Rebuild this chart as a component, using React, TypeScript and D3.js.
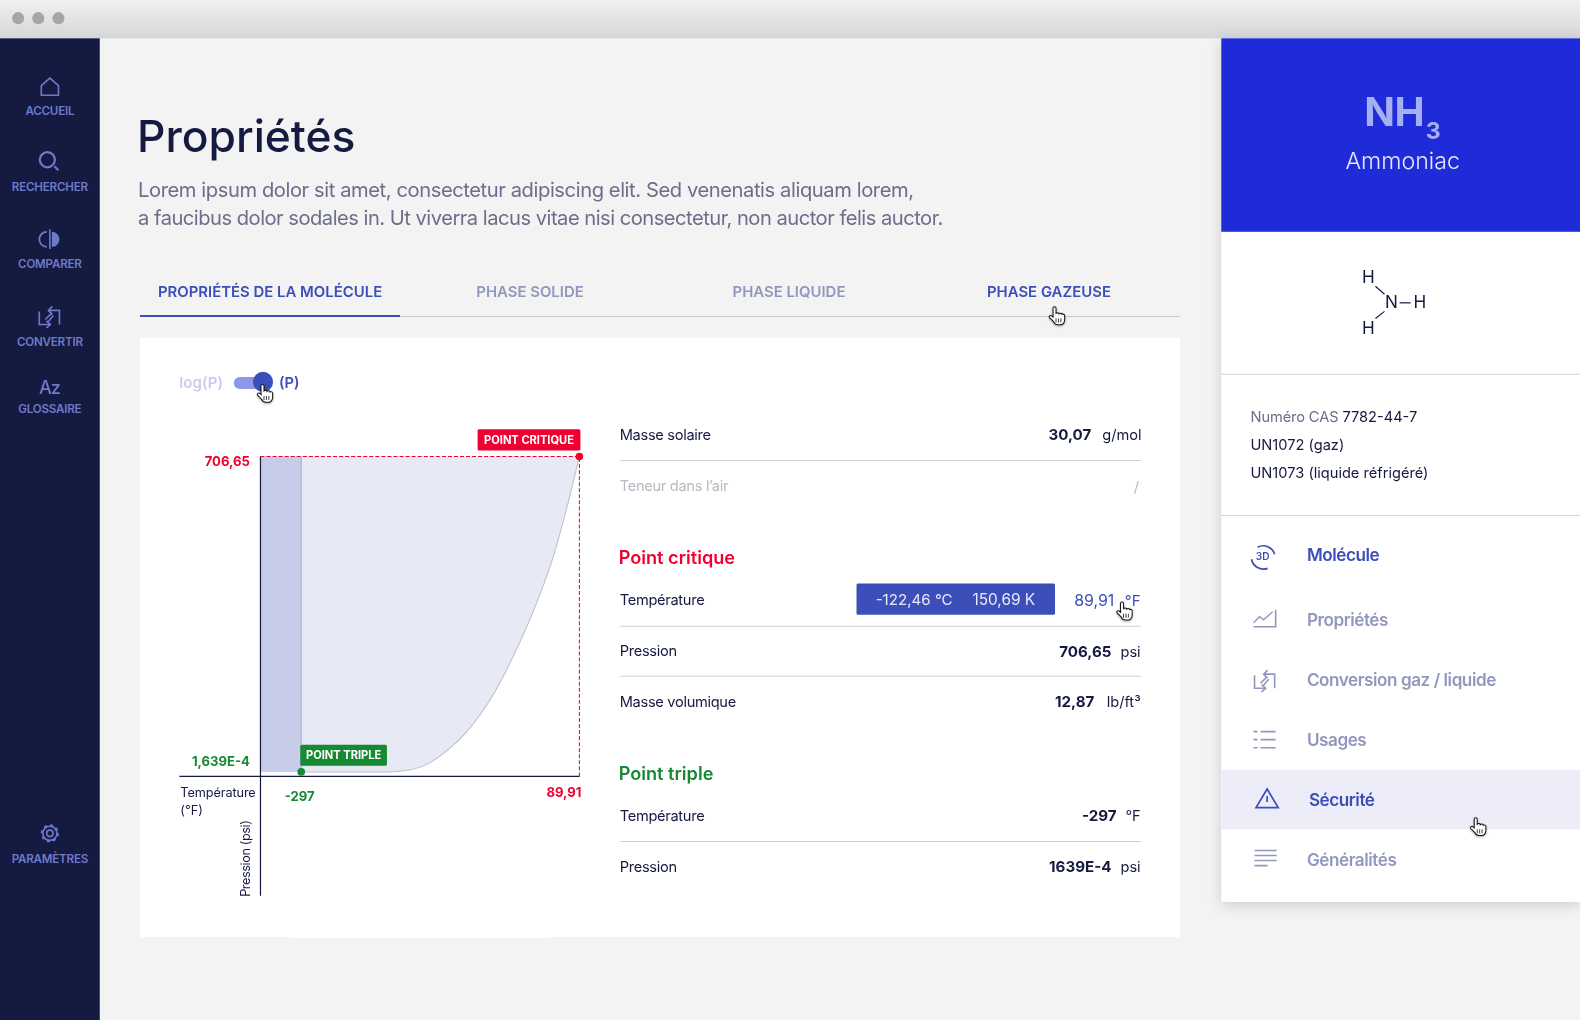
import React from "react";
import * as d3 from "d3";

// ---- data ----
const temperatureF = [-297, -176, -150, -122.2, -94.4, -66.7, -29.6, -1.9, 26, 53.7, 72.3, 89.91];
const pressurePsi = [0.0001639, 0.0002, 3.4, 16.9, 47.4, 90.3, 173.8, 259.6, 361, 483, 591.5, 706.65];
const xDomain = [-353.7, 89.91];
const yDomain = [0.0001639, 706.65];
const criticalPoint = { t: 89.91, p: 706.65, tLabel: "89,91", pLabel: "706,65" };
const triplePoint = { t: -297, p: 0.0001639, tLabel: "-297", pLabel: "1,639E-4" };
const navItems = ["ACCUEIL", "RECHERCHER", "COMPARER", "CONVERTIR", "GLOSSAIRE"];
const navY = [114, 190, 266, 343, 410];
const tabs = ["PROPRIÉTÉS DE LA MOLÉCULE", "PHASE SOLIDE", "PHASE LIQUIDE", "PHASE GAZEUSE"];
const tabX = [268, 526, 783, 1041];
const sideItems = ["Molécule", "Propriétés", "Conversion gaz / liquide", "Usages", "Sécurité", "Généralités"];
const sideY = [557, 621, 681, 740, 800, 859];

const NAVY = "#151a40";
const ACCENT = "#3c4eb9";
const ICON = "#6d7acb";
const MUTED = "#9297bd";
const RED = "#f00030";
const GREEN = "#158a32";
const FONT = "Inter, 'Noto Sans', sans-serif";

function Hand({ x, y }: { x: number; y: number }) {
  return (
    <g transform={`translate(${x},${y})`} filter="url(#soft)">
      <path
        d="M-3 -8 c0-2 3-2 3 0 v5 c1-1 3-1 3 .5 c1-1 3-1 3 .5 c1-.6 2.6-.2 2.6 1.2 v4 c0 3-2 5-4 5 h-3 c-2 0-3-1-4-3 l-4-4 c-1-1.5 1-3 2.5-1.5 l1 1 z"
        fill="#fff"
        stroke="#111"
        strokeWidth={1}
      />
      <path d="M0 2v4M2.4 2v4M4.8 2v4" stroke="#111" strokeWidth={0.8} />
    </g>
  );
}

function ConvertIcon({ x, y, c }: { x: number; y: number; c: string }) {
  return (
    <g transform={`translate(${x},${y})`} fill="none" stroke={c} strokeWidth={1.6}>
      <path d="M-10 -5 V8 H0 M-3 4.5 L1 8 L-3 11.5" />
      <path d="M10 8 V-6 H0 M3 -10 L-1 -6 L3 -2" />
      <path d="M-4 3 L2 -3" />
      <path d="M-1 5 L4 -1" />
    </g>
  );
}

export default function App() {
  const x = d3.scaleLinear().domain(xDomain).range([258.5, 575]);
  const y = d3.scaleLinear().domain(yDomain).range([766, 453]);
  const pts = temperatureF.map((t, i) => [t, pressurePsi[i]] as [number, number]);
  const curve = d3.line<[number, number]>().x((d) => x(d[0])).y((d) => y(d[1])).curve(d3.curveMonotoneX);
  const fill = d3
    .area<[number, number]>()
    .x((d) => x(d[0]))
    .y1((d) => y(d[1]))
    .y0(y(yDomain[1]))
    .curve(d3.curveMonotoneX);
  const xTrip = x(triplePoint.t);
  const xCrit = x(criticalPoint.t);
  const yTrip = y(triplePoint.p);
  const yCrit = y(criticalPoint.p);
  const xAxisY = yTrip + 4.5;
  const xOrigin = x(xDomain[0]);

  return (
    <svg
      width={1580}
      height={1020}
      viewBox="0 0 1568 1012.2"
      style={{ position: "fixed", left: 0, top: 0, fontFamily: FONT }}
    >
      <defs>
        <linearGradient id="bar" x1="0" y1="0" x2="0" y2="1">
          <stop offset="0" stopColor="#f0f0f0" />
          <stop offset="1" stopColor="#d5d6d9" />
        </linearGradient>
        <filter id="panel" x="-10%" y="-5%" width="120%" height="112%">
          <feDropShadow dx="0" dy="3" stdDeviation="7" floodColor="#000" floodOpacity="0.16" />
        </filter>
        <filter id="soft" x="-50%" y="-50%" width="200%" height="200%">
          <feDropShadow dx="0" dy="1" stdDeviation="1" floodColor="#000" floodOpacity="0.35" />
        </filter>
      </defs>

      <rect width={1568} height={1013} fill="#f3f3f4" />
      <rect width={1568} height={38} fill="url(#bar)" />
      {[18, 38, 58].map((cx) => (
        <circle key={cx} cx={cx} cy={18} r={6} fill="#a6a6a6" />
      ))}

      {/* left navigation */}
      <rect y={38} width={99} height={975} fill={NAVY} />
      {navItems.map((t, i) => (
        <text key={t} x={49.5} y={navY[i]} textAnchor="middle" fontSize={11.5} fontWeight={600} letterSpacing={-0.2} fill={ICON}>
          {t}
        </text>
      ))}
      <text x={49.5} y={856} textAnchor="middle" fontSize={11.5} fontWeight={600} letterSpacing={-0.2} fill={ICON}>
        PARAMÈTRES
      </text>
      <g fill="none" stroke={ICON} strokeWidth={1.6}>
        <path d="M41 94.5 V85 L49.5 77.5 L58 85 V94.5 Z" />
        <circle cx={47} cy={158.5} r={7.5} strokeWidth={2.2} />
        <path d="M54 165 L58 169" strokeWidth={2.2} />
        <path d="M46.5 230 A7.5 7.5 0 0 0 46.5 245" strokeWidth={1.8} />
        <path d="M49.5 227.5 V247" />
        <path d="M51.5 230 A7.5 7.5 0 0 1 51.5 245 Z" fill={ICON} stroke="none" />
        <circle cx={49.5} cy={827} r={3.2} />
        <circle cx={49.5} cy={827} r={7} />
        <circle cx={49.5} cy={827} r={8.2} strokeDasharray="3 3.44" strokeWidth={1.6} />
      </g>
      <ConvertIcon x={49} y={314} c={ICON} />
      <text x={49} y={391} textAnchor="middle" fontSize={18} fontWeight={500} letterSpacing={-1} fill={ICON}>
        Az
      </text>

      {/* header */}
      <text x={136} y={150.5} fontSize={44} fontWeight={500} fill={NAVY}>
        Propriétés
      </text>
      <g fontSize={20} fill="#6c6e8a">
        <text x={137} y={195.5} letterSpacing={-0.41}>Lorem ipsum dolor sit amet, consectetur adipiscing elit. Sed venenatis aliquam lorem,</text>
        <text x={137} y={223.5} letterSpacing={-0.5}>a faucibus dolor sodales in. Ut viverra lacus vitae nisi consectetur, non auctor felis auctor.</text>
      </g>

      {/* tabs */}
      {tabs.map((t, i) => (
        <text
          key={t}
          x={tabX[i]}
          y={295}
          textAnchor="middle"
          fontSize={14.8}
          fontWeight={600}
          fill={i === 0 || i === 3 ? ACCENT : MUTED}
        >
          {t}
        </text>
      ))}
      <line x1={139} x2={1171} y1={314} y2={314} stroke="#c9c9cf" />
      <line x1={139} x2={397} y1={313.5} y2={313.5} stroke={ACCENT} strokeWidth={2} />

      <rect x={139} y={335} width={1032} height={595} fill="#fff" />

      {/* toggle */}
      <text x={178} y={385.5} fontSize={15} fontWeight={600} fill="#c8cdee">log(P)</text>
      <rect x={232} y={374} width={36} height={12} rx={6} fill="#8c97e8" />
      <circle cx={261} cy={379} r={10} fill={ACCENT} />
      <text x={277} y={385.5} fontSize={14.6} fontWeight={600} fill={ACCENT}>(P)</text>
      <Hand x={262} y={391} />

      {/* chart */}
      <rect x={xOrigin} y={yCrit} width={xTrip - xOrigin} height={yTrip - yCrit} fill="#c7cce9" />
      <path d={fill(pts) ?? ""} fill="#e7e9f5" />
      <path d={curve(pts) ?? ""} fill="none" stroke="#bcbfca" strokeWidth={1} />
      <line x1={xTrip} x2={xTrip} y1={yCrit} y2={yTrip} stroke="#a6abc8" strokeWidth={1} />
      <path
        d={`M${xOrigin} ${yCrit} H${xCrit} V${xAxisY}`}
        fill="none"
        stroke={RED}
        strokeWidth={1}
        strokeDasharray="4 2"
      />
      <line x1={178} x2={xCrit} y1={xAxisY} y2={xAxisY} stroke={NAVY} strokeWidth={1.2} />
      <line x1={xOrigin} x2={xOrigin} y1={yCrit} y2={889} stroke={NAVY} strokeWidth={1.2} />
      <circle cx={xCrit} cy={yCrit} r={3.8} fill={RED} />
      <circle cx={xTrip} cy={yTrip} r={3.8} fill={GREEN} />

      <rect x={474} y={426} width={102} height={21} rx={1.5} fill={RED} />
      <text x={525} y={441} textAnchor="middle" fontSize={11} fontWeight={700} fill="#fff">POINT CRITIQUE</text>
      <rect x={298} y={739} width={86} height={21} rx={1.5} fill={GREEN} />
      <text x={341} y={753} textAnchor="middle" fontSize={11} fontWeight={700} fill="#fff">POINT TRIPLE</text>

      <g fontSize={13} fontWeight={700}>
        <text x={248} y={462} textAnchor="end" fill={RED}>{criticalPoint.pLabel}</text>
        <text x={248} y={760} textAnchor="end" fill={GREEN}>{triplePoint.pLabel}</text>
        <text x={xTrip - 1.5} y={795} textAnchor="middle" fill={GREEN}>{triplePoint.tLabel}</text>
        <text x={577} y={791} textAnchor="end" fill={RED}>{criticalPoint.tLabel}</text>
      </g>
      <g fontSize={12.6} fill={NAVY}>
        <text x={179} y={791} letterSpacing={-0.1}>Température</text>
        <text x={179} y={809}>(°F)</text>
        <text transform="translate(248,890) rotate(-90)" letterSpacing={-0.4}>Pression (psi)</text>
      </g>

      {/* table */}
      <g stroke="#cfcfd4">
        {[457, 621.5, 671, 835].map((ly) => (
          <line key={ly} x1={615} x2={1132} y1={ly} y2={ly} />
        ))}
      </g>
      <g fontSize={14.5} fill={NAVY} letterSpacing={-0.3}>
        <text x={615} y={437}>Masse solaire</text>
        <text x={615} y={487} fill="#b9b9c2">Teneur dans l’air</text>
        <text x={1130} y={488} textAnchor="end" fill="#b9b9c2">/</text>
        <text x={615} y={600}>Température</text>
        <text x={615} y={651}>Pression</text>
        <text x={615} y={702}>Masse volumique</text>
        <text x={615} y={815}>Température</text>
        <text x={615} y={865}>Pression</text>
        <g textAnchor="end" fontWeight={700} fontSize={15} letterSpacing={0}>
          <text x={1083} y={437}>30,07</text>
          <text x={1103} y={652}>706,65</text>
          <text x={1086} y={702}>12,87</text>
          <text x={1108} y={815}>-297</text>
          <text x={1103} y={865}>1639E-4</text>
        </g>
        <g textAnchor="end" letterSpacing={0}>
          <text x={1133} y={437}>g/mol</text>
          <text x={1132} y={652}>psi</text>
          <text x={1132} y={702}>lb/ft³</text>
          <text x={1132} y={815}>°F</text>
          <text x={1132} y={865}>psi</text>
        </g>
      </g>
      <text x={614} y={560} fontSize={18} fontWeight={600} fill={RED}>Point critique</text>
      <text x={614} y={774} fontSize={18} fontWeight={600} fill={GREEN}>Point triple</text>
      <rect x={850} y={579} width={197} height={31} rx={1.5} fill={ACCENT} />
      <text x={869} y={600} fontSize={15} fill="#e8eaf8">-122,46 °C</text>
      <text x={965} y={600} fontSize={15.3} fill="#e8eaf8">150,69 K</text>
      <text x={1066} y={601} fontSize={15.8} fill={ACCENT}>89,91</text>
      <text x={1132} y={601} fontSize={15} textAnchor="end" fill={ACCENT}>°F</text>
      <Hand x={1115} y={607} />

      <Hand x={1048} y={314} />

      {/* right panel */}
      <rect x={1212} y={38} width={356} height={857} fill="#fff" filter="url(#panel)" />
      <rect x={1212} y={38} width={356} height={192} fill="#1f2bd8" />
      <text x={1354} y={125} fontSize={40} fontWeight={700} letterSpacing={-0.5} fill="#a5aff2">NH</text>
      <text x={1415} y={138} fontSize={23} fontWeight={700} fill="#a5aff2">3</text>
      <text x={1392} y={168} textAnchor="middle" fontSize={23} fontWeight={300} fill="#e6e8fb">Ammoniac</text>

      <g fontSize={17} fill={NAVY} textAnchor="middle">
        <text x={1358} y={281}>H</text>
        <text x={1381} y={306}>N</text>
        <text x={1409} y={306}>H</text>
        <text x={1358} y={331.5}>H</text>
      </g>
      <g stroke={NAVY} strokeWidth={1.2}>
        <line x1={1365} x2={1374} y1={284} y2={292} />
        <line x1={1365} x2={1374} y1={316} y2={309} />
        <line x1={1389} x2={1400} y1={300.5} y2={300.5} />
      </g>

      <line x1={1212} x2={1568} y1={371.5} y2={371.5} stroke="#d2d2da" />
      <line x1={1212} x2={1568} y1={511.5} y2={511.5} stroke="#d2d2da" />
      <g fontSize={14.5} fill={NAVY}>
        <text x={1241} y={419}>
          <tspan fill="#6c6e8a" letterSpacing={-0.1}>Numéro CAS </tspan>7782-44-7
        </text>
        <text x={1241} y={447}>UN1072 (gaz)</text>
        <text x={1241} y={474}>UN1073 (liquide réfrigéré)</text>
      </g>

      <rect x={1212} y={764} width={356} height={59} fill="#ecedf8" />
      {sideItems.map((t, i) => (
        <text
          key={t}
          x={i === 4 ? 1299 : 1297}
          y={sideY[i]}
          fontSize={17}
          fontWeight={600}
          letterSpacing={-0.45}
          fill={i === 0 || i === 4 ? ACCENT : MUTED}
        >
          {t}
        </text>
      ))}
      <g fill="none" stroke={ACCENT} strokeWidth={1.7}>
        <path d="M1248 543 A12 12 0 0 1 1265 550" />
        <path d="M1242 555 A12 12 0 0 0 1258 564" />
        <path d="M1257.5 783 L1268.5 801.5 H1246.5 Z" />
        <path d="M1257.5 790 V796" />
      </g>
      <text x={1253} y={556} textAnchor="middle" fontSize={10} fontWeight={600} fill={ACCENT}>3D</text>
      <g fill="none" stroke={MUTED} strokeWidth={1.6}>
        <path d="M1244 622 H1266 V605" />
        <path d="M1244 618 L1250 612 L1254 615 L1263 607" strokeWidth={1.4} />
        <path d="M1244 726 H1248 M1251 726 H1266 M1244 734 H1248 M1251 734 H1266 M1244 742 H1248 M1251 742 H1266" />
        <path d="M1245 844 H1267 M1245 849 H1267 M1245 854 H1267 M1245 859 H1258" />
      </g>
      <ConvertIcon x={1255} y={675} c={MUTED} />
      <Hand x={1466} y={821} />
    </svg>
  );
}
